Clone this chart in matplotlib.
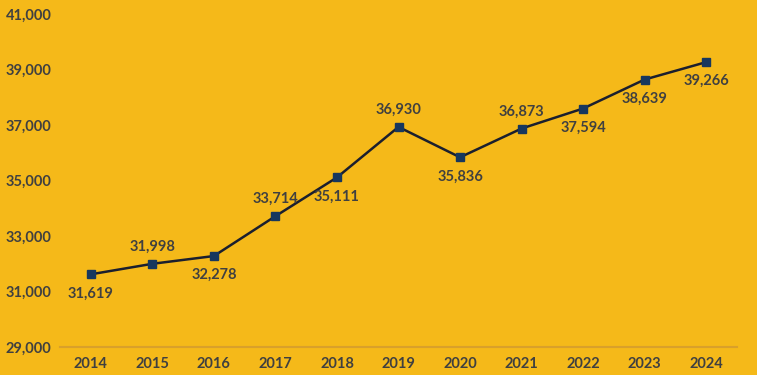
import matplotlib
matplotlib.use("Agg")
import matplotlib.pyplot as plt
from matplotlib.ticker import FuncFormatter

years = ["2014", "2015", "2016", "2017", "2018", "2019", "2020", "2021", "2022", "2023", "2024"]
values = [31619, 31998, 32278, 33714, 35111, 36930, 35836, 36873, 37594, 38639, 39266]
label_pos = ["below", "above", "below", "above", "below", "above", "below", "above", "below", "below", "below"]
y_ticks = [29000, 31000, 33000, 35000, 37000, 39000, 41000]

bg = "#F5B919"
txt = "#404040"
plt.rcParams['font.family'] = ['Lato', 'DejaVu Sans']

fig = plt.figure(figsize=(7.57, 3.75), dpi=100, facecolor=bg)
ax = fig.add_axes([60/757, 1-347/375, (737-60)/757, (347-14)/375], facecolor=bg)

x = list(range(len(years)))
ax.plot(x, values, color="#1B1F2E", lw=1.8, marker="s", markersize=6,
        markerfacecolor="#17375E", markeredgecolor="#17375E", zorder=3)

for xi, v, p in zip(x, values, label_pos):
    off = 17 if p == "above" else -19
    ax.annotate(f"{v:,}", (xi, v), xytext=(0, off), textcoords="offset pixels",
                ha="center", va="center", fontsize=10.5, fontweight="bold", color=txt)

ax.set_xlim(-0.5, len(years) - 0.5)
ax.set_ylim(29000, 41000)
ax.set_yticks(y_ticks)
ax.yaxis.set_major_formatter(FuncFormatter(lambda v, p: f"{int(v):,}"))
ax.set_xticks(x)
ax.set_xticklabels(years)
for lab in ax.get_xticklabels() + ax.get_yticklabels():
    lab.set_fontweight("bold")
    lab.set_color(txt)
    lab.set_fontsize(10.5)
ax.tick_params(axis="both", length=0)
ax.tick_params(axis="x", pad=7)
for s in ["top", "right", "left"]:
    ax.spines[s].set_visible(False)
ax.spines["bottom"].set_color("#D9A02A")
ax.spines["bottom"].set_linewidth(1.5)
for lab in ax.get_yticklabels():
    lab.set_horizontalalignment("left")
ax.tick_params(axis="y", pad=39)

fig.savefig("out.png", dpi=100, facecolor=bg)
